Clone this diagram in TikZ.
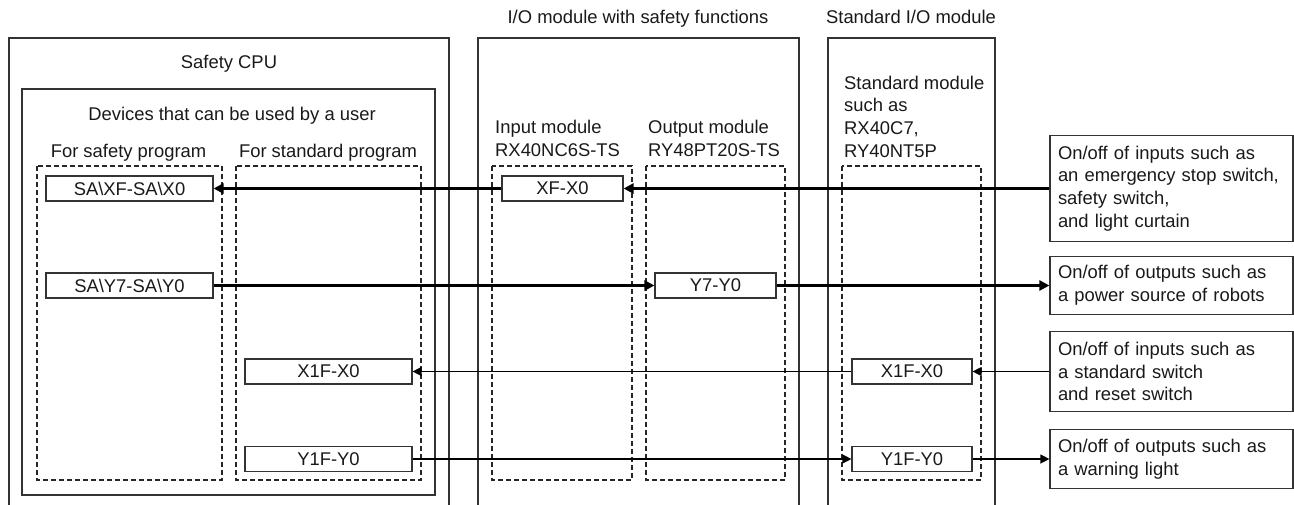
\documentclass[tikz,border=0pt]{standalone}
\usepackage{fontspec}
\setmainfont{Liberation Sans}
\usetikzlibrary{arrows.meta}

\tikzset{
  frame/.style={draw=black!80, line width=1.2pt},
  dashbox/.style={draw=black!85, line width=1.2pt, dash pattern=on 5pt off 3pt},
  devbox/.style={draw=black!80, line width=1.2pt, minimum height=25pt, inner sep=0pt},
  sigbox/.style={draw=black!80, line width=1.2pt, minimum width=243pt, inner sep=0pt,
    text width=227pt, align=left},
  thickarrow/.style={line width=2.6pt, -{Triangle[length=10pt,width=10pt]}},
  thinarrow/.style={line width=1.3pt, -{Triangle[length=9pt,width=9pt]}}
}

\begin{document}
\begin{tikzpicture}[x=1pt, y=-1pt, every node/.style={font=\fontsize{18.4}{22.7}\selectfont, text=black!90}]
\useasboundingbox (0,0) rectangle (1294,504);

\draw [frame] (9,520) -- (9,38) -- (449,38) -- (449,520);
\draw [frame] (22,89) rectangle (435,495);
\draw [frame] (478,520) -- (478,38) -- (799,38) -- (799,520);
\draw [frame] (828,520) -- (828,38) -- (995,38) -- (995,520);

\draw [dashbox] (37,166) rectangle (222,480);
\draw [dashbox] (236,166) rectangle (421,480);
\draw [dashbox] (492,166) rectangle (632,480);
\draw [dashbox] (646,166) rectangle (785,480);
\draw [dashbox] (842,166) rectangle (981,480);

\node [anchor=base, inner sep=0pt] (cpulabel) at (229,68) {Safety CPU};
\node [anchor=base, inner sep=0pt] (devlabel) at (232,120) {Devices that can be used by a user};
\node [anchor=base, inner sep=0pt] (safelabel) at (128.5,157) {For safety program};
\node [anchor=base, inner sep=0pt] (stdlabel) at (328,157) {For standard program};
\node [anchor=base, inner sep=0pt] (siolabel) at (638,23) {I/O module with safety functions};
\node [anchor=base, inner sep=0pt] (iolabel) at (911,23) {Standard I/O module};
\node [anchor=north west, inner sep=0pt, align=left] (inlabel) at (495,120) {Input module\\RX40NC6S-TS};
\node [anchor=north west, inner sep=0pt, align=left] (outlabel) at (648,120) {Output module\\RY48PT20S-TS};
\node [anchor=north west, inner sep=0pt, align=left] (modlabel) at (844,75.5) {Standard module\\such as\\RX40C7,\\RY40NT5P};

\node [devbox, minimum width=167pt] (saxf) at (129.5,188.5) {SA\textbackslash XF-SA\textbackslash X0};
\node [devbox, minimum width=167pt] (say7) at (129.5,285.5) {SA\textbackslash Y7-SA\textbackslash Y0};
\node [devbox, minimum width=167pt] (cx1f) at (328.5,371.5) {X1F-X0};
\node [devbox, minimum width=167pt] (cy1f) at (328.5,459) {Y1F-Y0};
\node [devbox, minimum width=121pt] (xf) at (562.5,188.5) {XF-X0};
\node [devbox, minimum width=121pt] (y7) at (715.5,285.5) {Y7-Y0};
\node [devbox, minimum width=120pt] (sx1f) at (912,371.5) {X1F-X0};
\node [devbox, minimum width=120pt] (sy1f) at (912,459) {Y1F-Y0};

\node [sigbox, minimum height=106pt] (in1) at (1171.5,188.5) {On/off of inputs such as\\an emergency stop switch,\\safety switch,\\and light curtain};
\node [sigbox, minimum height=58pt] (out1) at (1171.5,285.5) {On/off of outputs such as\\a power source of robots};
\node [sigbox, minimum height=80pt] (in2) at (1171.5,371.5) {On/off of inputs such as\\a standard switch\\and reset switch};
\node [sigbox, minimum height=59pt] (out2) at (1171.5,459) {On/off of outputs such as\\a warning light};

\draw [thickarrow] (in1.west) -- (xf.east);
\draw [thickarrow] (xf.west) -- (saxf.east);
\draw [thickarrow] (say7.east) -- (y7.west);
\draw [thickarrow] (y7.east) -- (out1.west);
\draw [thinarrow] (in2.west) -- (sx1f.east);
\draw [thinarrow] (sx1f.west) -- (cx1f.east);
\draw [thinarrow] (cy1f.east) -- (sy1f.west);
\draw [thinarrow] (sy1f.east) -- (out2.west);
\end{tikzpicture}
\end{document}
